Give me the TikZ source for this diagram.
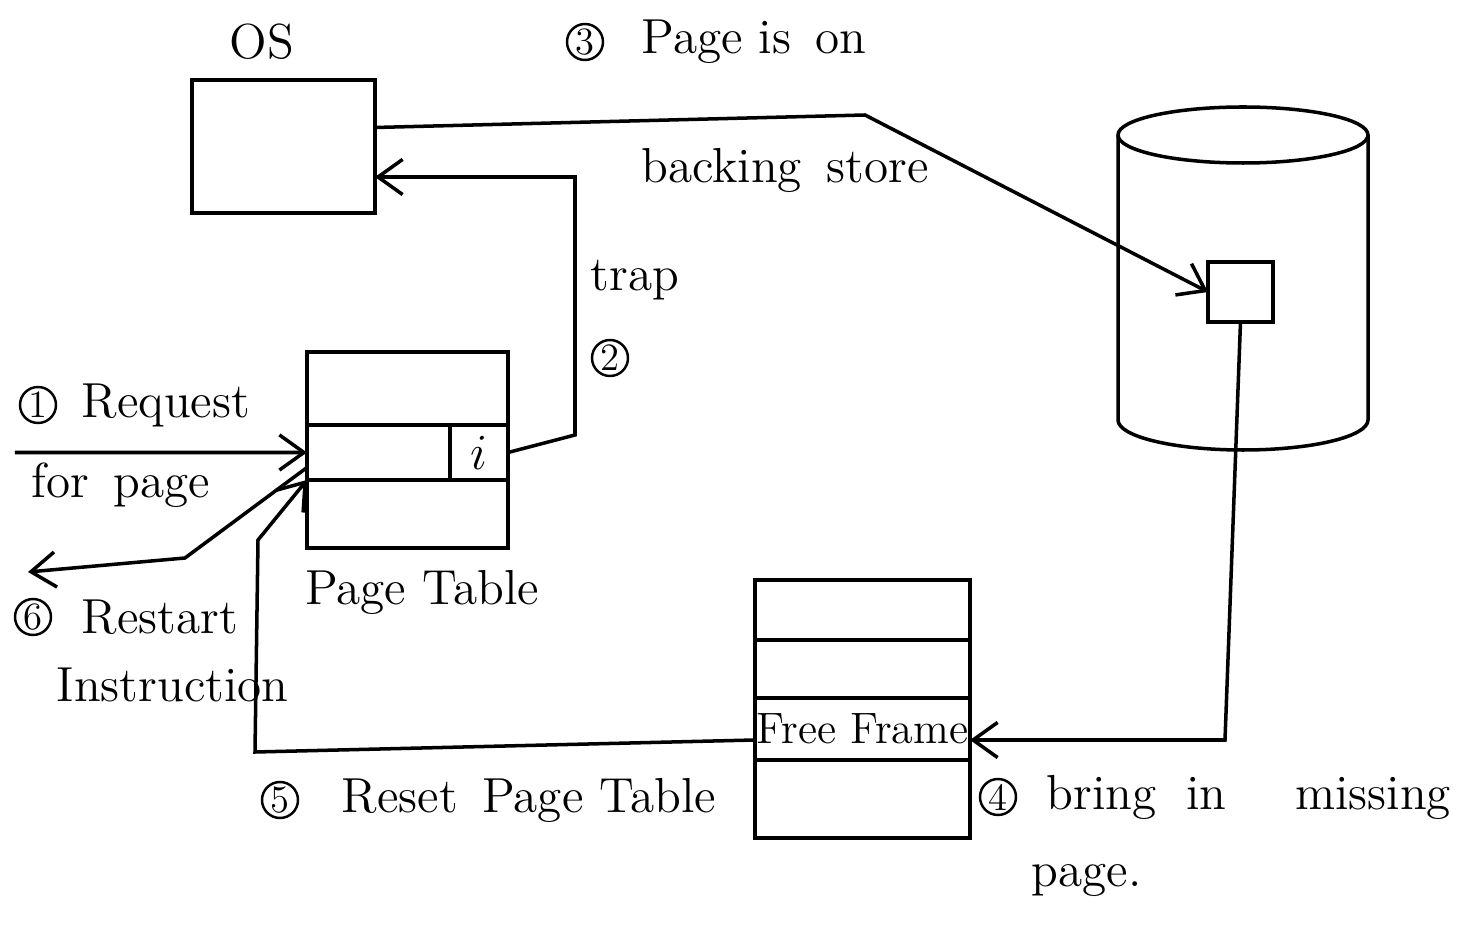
\documentclass[tikz,border=0pt]{standalone}
\usetikzlibrary{arrows.meta}

\begin{document}
\begin{tikzpicture}[
    % --- Styles ---
    line width=1pt,
    note/.style={font=\fontsize{14}{16}\selectfont, inner sep=0pt},
    % circled step number
    stepmark/.style={circle, draw, line width=0.7pt, minimum size=0.36cm, inner sep=0pt,
                     font=\fontsize{11}{12}\selectfont},
    % one cell of a table, hung from its top left corner
    cell/.style={draw, anchor=north west, inner sep=0pt, outer sep=0pt},
    box/.style={draw, inner sep=0pt, outer sep=0pt},
    % open barb tip as in the sketch
    flow/.style={-{Straight Barb[length=7pt,width=10pt]}},
    link/.style={line join=miter}
]

%================CONFIGURATION================
% \ptw: page table width, \frw: frame table width
\def\ptw{2.01cm}
\def\frw{2.15cm}
% disk geometry: centre x, top y, bottom y, x radius
\def\dx{12.43}
\def\dtop{-1.35}
\def\dbot{-4.20}
\def\drx{1.25}
%=============================================

\useasboundingbox (0,0) rectangle (14.83,-9.33);

% --- 1. OS box ---
\node[box, minimum width=1.83cm, minimum height=1.33cm] (os) at (2.835,-1.465) {};
\node[note] (osLabel) at (2.62,-0.42) {OS};

% --- 2. Page table ---
\node[cell, minimum width=\ptw, minimum height=0.73cm] (pt1) at (3.07,-3.52) {};
\node[cell, minimum width=1.43cm, minimum height=0.55cm] (pt2) at (pt1.south west) {};
\node[cell, minimum width=0.58cm, minimum height=0.55cm, font=\fontsize{14}{16}\selectfont] (ptbit) at (pt2.north east) {$i$};
\node[cell, minimum width=\ptw, minimum height=0.68cm] (pt3) at (pt2.south west) {};
\node[note] (ptLabel) at (4.22,-5.92) {Page Table};

% --- 3. Frame table ---
\node[cell, minimum width=\frw, minimum height=0.60cm] (fr1) at (7.55,-5.80) {};
\node[cell, minimum width=\frw, minimum height=0.58cm] (fr2) at (fr1.south west) {};
\node[cell, minimum width=\frw, minimum height=0.62cm, font=\fontsize{12.5}{14}\selectfont] (free) at (fr2.south west) {Free Frame};
\node[cell, minimum width=\frw, minimum height=0.78cm] (fr4) at (free.south west) {};

% --- 4. Backing store (disk) ---
\draw (\dx,\dtop) ellipse ({\drx} and 0.28);
\draw (\dx-\drx,\dtop) -- (\dx-\drx,\dbot)
      arc (180:360:{\drx} and 0.30) -- (\dx+\drx,\dtop);
\node[box, minimum width=0.65cm, minimum height=0.60cm] (diskBlock) at (12.405,-2.92) {};

% --- 5. Bend points of the connectors ---
\coordinate (reqIn) at (0.15,-4.525);
\coordinate (restartBend) at (1.85,-5.58);
\coordinate (restartOut) at (0.28,-5.72);
\coordinate (trapFoot) at (5.75,-4.35);
\coordinate (trapTop) at (5.75,-1.77);
\coordinate (storeBend) at (8.65,-1.15);
\coordinate (bringBend) at (12.25,-7.40);
\coordinate (resetCorner) at (2.55,-7.52);
\coordinate (resetUp) at (2.58,-5.40);

% --- 6. Connectors ---
\draw[flow] (reqIn) -- (pt2.west);
\draw[flow, link] ([yshift=-0.15cm]pt2.west) -- (restartBend) -- (restartOut);
\draw[flow, link] (ptbit.east) -- (trapFoot) -- (trapTop) -- (trapTop -| os.east);
\draw[flow, link] ([yshift=0.19cm]os.east) -- (storeBend) -- (diskBlock.west);
\draw[flow, link] (diskBlock.south) -- (bringBend) -- (bringBend -| free.east);
\draw[flow, link] ([yshift=-0.11cm]free.west) -- (resetCorner) -- (resetUp) -- (pt2.south west);

% --- 7. Step labels ---
\node[stepmark] (stepThree) at (5.85,-0.42) {3};
\node[note, anchor=west] (pageIsOn) at (6.40,-0.42) {Page is\hspace{0.5em}on};
\node[note] (storeLabel) at (7.85,-1.70) {backing\hspace{0.5em}store};
\node[note] (trapLabel) at (6.35,-2.80) {trap};
\node[stepmark] (stepTwo) at (6.10,-3.58) {2};
\node[stepmark] (stepOne) at (0.38,-4.05) {1};
\node[note, anchor=west] (request) at (0.80,-4.05) {Request};
\node[note, anchor=west] (forPage) at (0.30,-4.85) {for\hspace{0.5em}page};
\node[stepmark] (stepSix) at (0.33,-6.17) {6};
\node[note, anchor=west] (restart) at (0.80,-6.17) {Restart};
\node[note, anchor=west] (instrLabel) at (0.55,-6.85) {Instruction};
\node[stepmark] (stepFive) at (2.80,-8.00) {5};
\node[note, anchor=west] (resetLabel) at (3.40,-8.00) {Reset\hspace{0.5em}Page Table};
\node[stepmark] (stepFour) at (9.98,-7.97) {4};
\node[note, anchor=west] (bringLabel) at (10.45,-7.97) {bring\hspace{0.6em}in\hspace{1.4em}missing};
\node[note, anchor=west] (pageLabel) at (10.30,-8.80) {page.};

\end{tikzpicture}
\end{document}
